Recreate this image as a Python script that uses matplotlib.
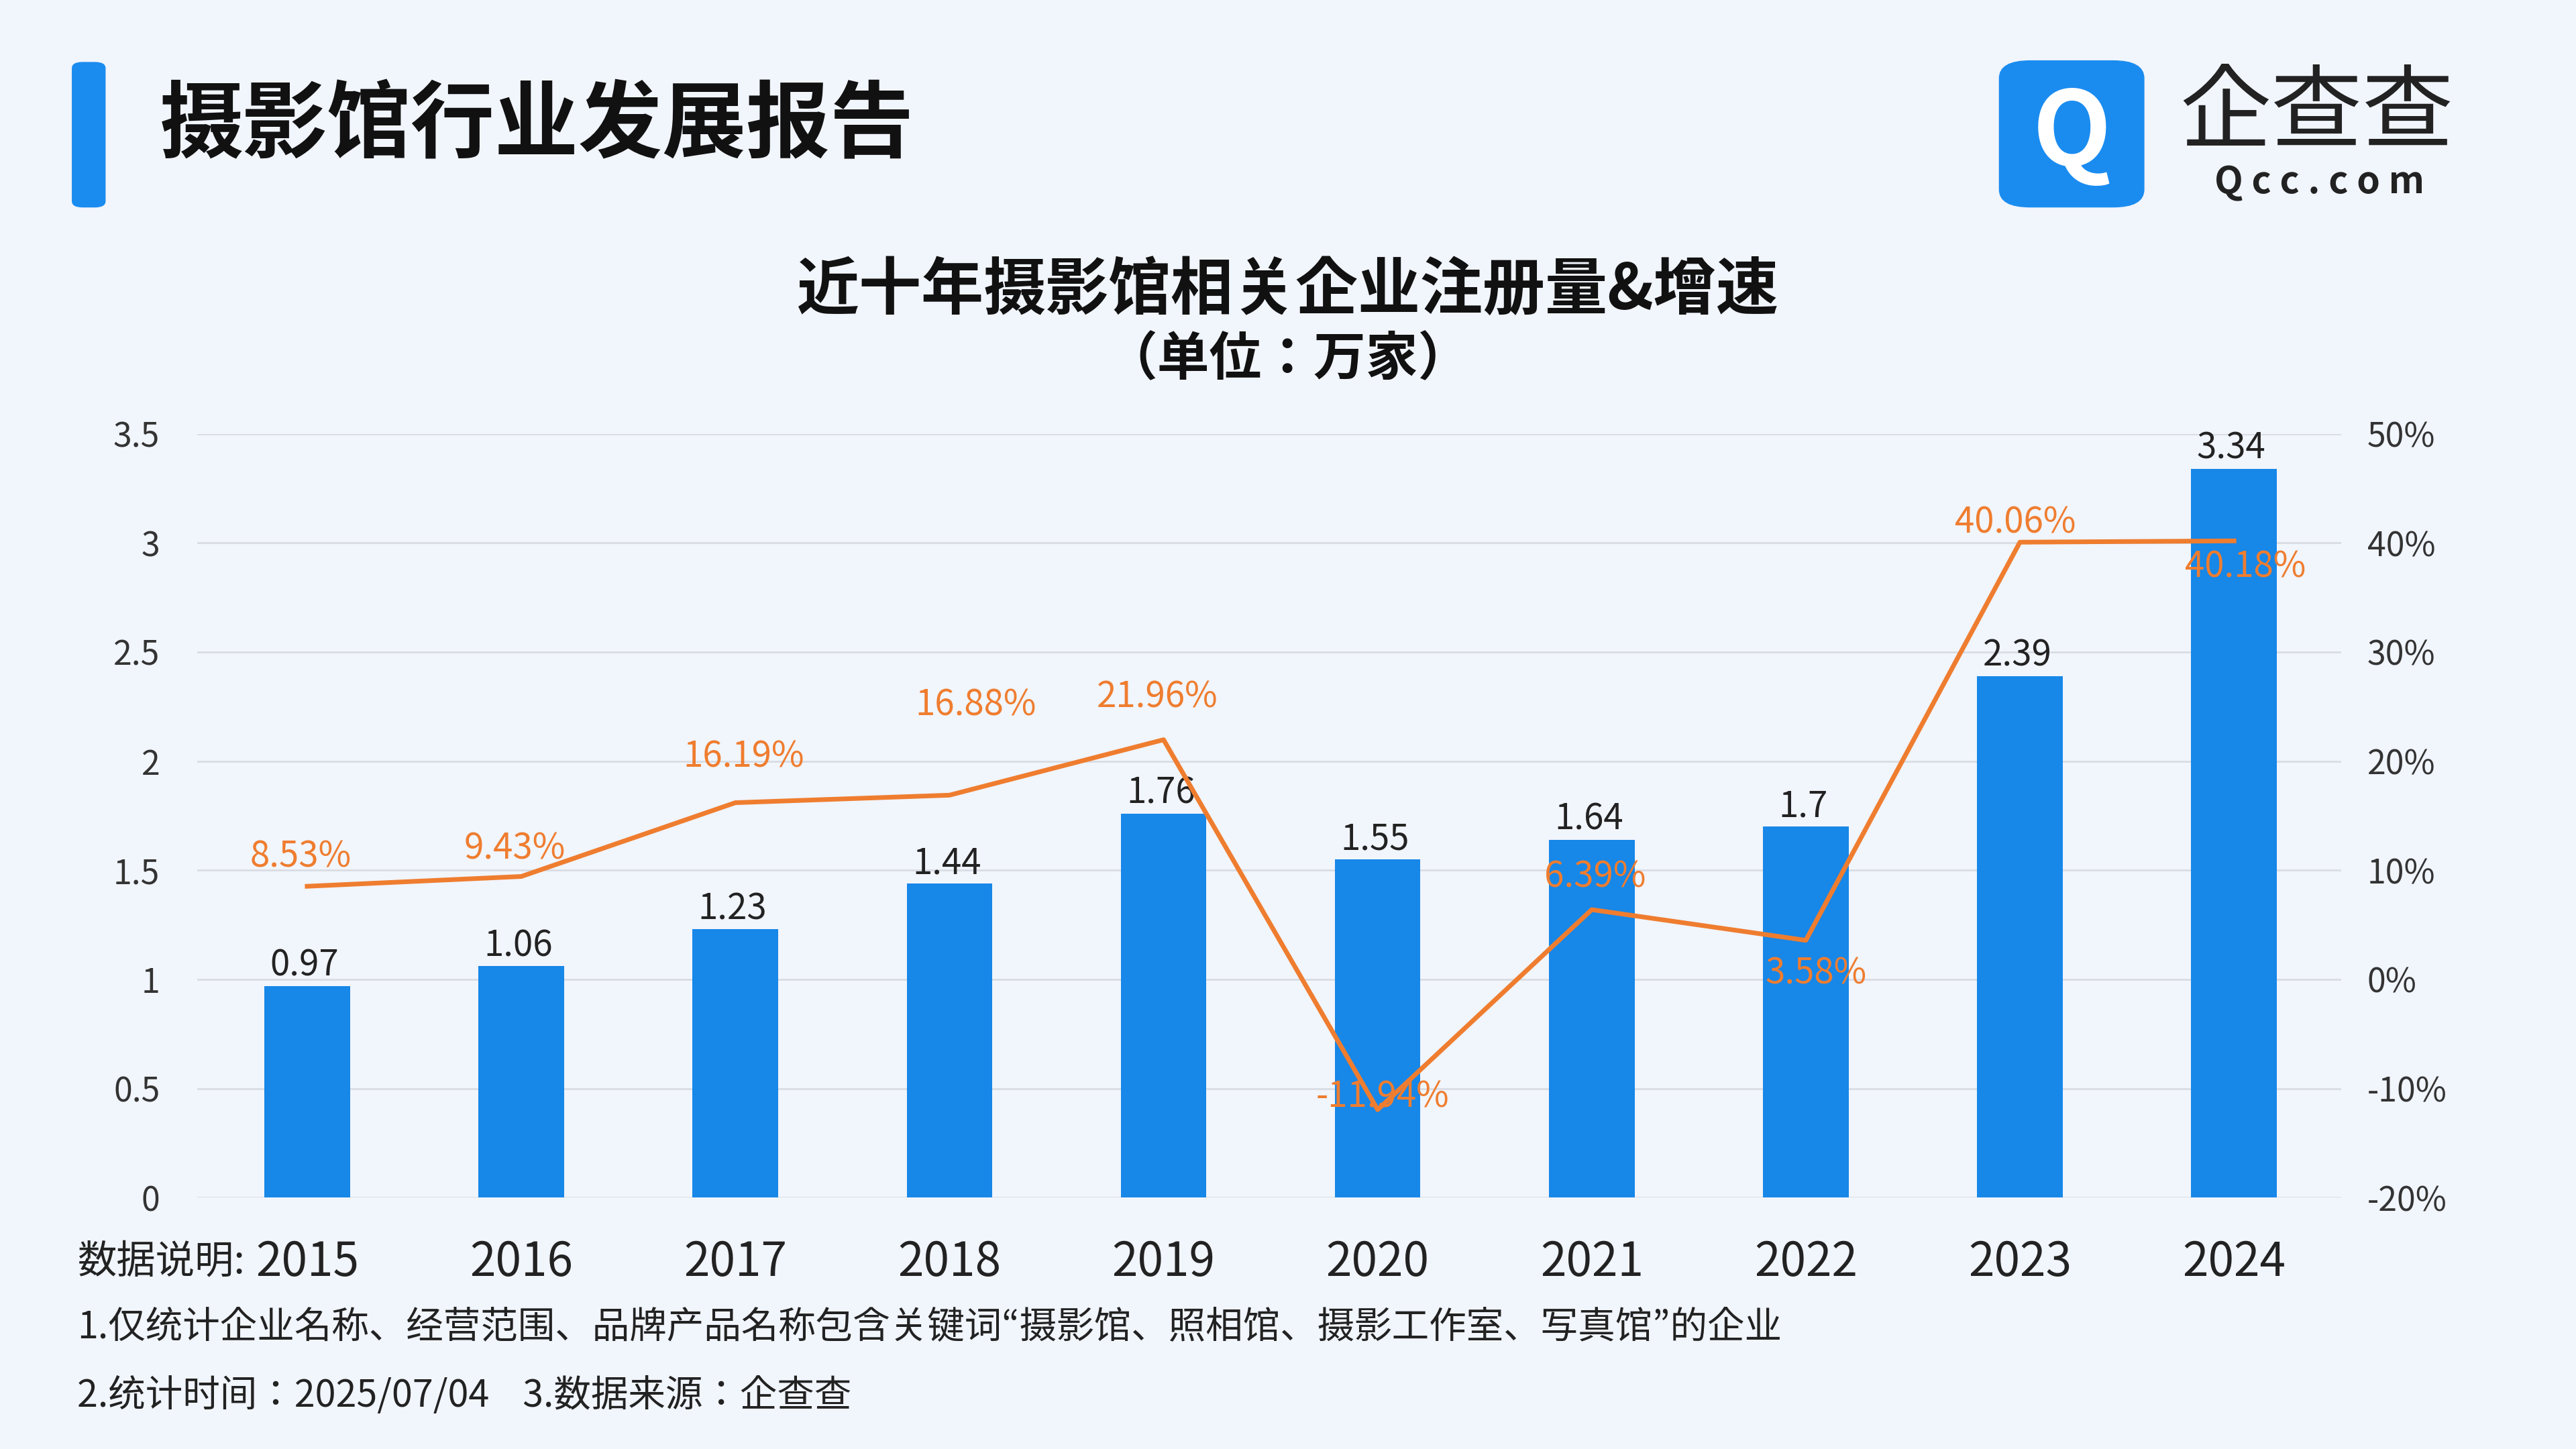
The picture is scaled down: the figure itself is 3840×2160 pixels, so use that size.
import matplotlib
matplotlib.use("Agg")
import matplotlib.pyplot as plt
from matplotlib import font_manager
from matplotlib.patches import FancyBboxPatch

cjk = [f.name for f in font_manager.fontManager.ttflist if 'Sans CJK' in f.name]
pref = [n for n in cjk if n.endswith('SC')] or cjk
plt.rcParams['font.family'] = [pref[0] if pref else 'Noto Sans CJK SC', 'DejaVu Sans']

years = ['2015','2016','2017','2018','2019','2020','2021','2022','2023','2024']
counts = [0.97,1.06,1.23,1.44,1.76,1.55,1.64,1.7,2.39,3.34]
count_labels = ['0.97','1.06','1.23','1.44','1.76','1.55','1.64','1.7','2.39','3.34']
growth = [8.53,9.43,16.19,16.88,21.96,-11.94,6.39,3.58,40.06,40.18]
growth_labels = ['8.53%','9.43%','16.19%','16.88%','21.96%','-11.94%','6.39%','3.58%','40.06%','40.18%']
left_ticks = [0,0.5,1,1.5,2,2.5,3,3.5]
left_tick_labels = ['0','0.5','1','1.5','2','2.5','3','3.5']
right_ticks = [-20,-10,0,10,20,30,40,50]
right_tick_labels = ['-20%','-10%','0%','10%','20%','30%','40%','50%']

offs = [(-4,18),(-4,17),(5,28),(16,55),(-4,26),(3,8),(2,20),(6,-20),(-3,12),(7,-16)]
K = 1.763

bg = '#f1f5fc'
fig = plt.figure(figsize=(38.4,21.6), dpi=100, facecolor=bg)
W, H = 1568, 882
def fx(x): return x/W
def fy(y): return 1-y/H

ax = fig.add_axes([fx(120), fy(729), fx(1425)-fx(120), fy(264)-fy(729)])
ax.set_facecolor('none')
x = list(range(len(years)))
ax.bar(x, counts, width=0.4, color='#1787e8', zorder=3)
ax.set_ylim(0,3.5)
ax.set_xlim(-0.514, 9.5)
ax.set_yticks(left_ticks)
ax.set_yticklabels(left_tick_labels, fontsize=36, color='#333333')
ax.set_xticks(x)
ax.set_xticklabels(years, fontsize=50, color='#222222')
ax.tick_params(axis='x', length=0, pad=44)
ax.tick_params(axis='y', length=0, pad=40)
ax.grid(axis='y', color='#d9dce3', linewidth=2, zorder=0)
for s in ax.spines.values(): s.set_visible(False)
for xi, c, l in zip(x, counts, count_labels):
    ax.annotate(l, (xi, c), xytext=(-3, 2), textcoords='offset points', ha='center', va='bottom', fontsize=38, color='#222222', zorder=5)

ax2 = ax.twinx()
ax2.set_ylim(-20,50)
ax2.set_yticks(right_ticks)
ax2.set_yticklabels(right_tick_labels, fontsize=36, color='#333333')
ax2.tick_params(length=0, pad=28)
for s in ax2.spines.values(): s.set_visible(False)
ax2.plot(x, growth, color='#ef7d2f', linewidth=5, zorder=4)
for xi, g, l, (dx, dy) in zip(x, growth, growth_labels, offs):
    ax2.annotate(l, (xi, g), xytext=(dx*K, dy*K), textcoords='offset points', ha='center', va='center', fontsize=38, color='#ef7d2f', zorder=6)

fig.patches.append(FancyBboxPatch((fx(44), fy(126)), fx(64)-fx(44), fy(38)-fy(126), boxstyle='round,pad=0,rounding_size=0.004', transform=fig.transFigure, color='#1a8cf0'))
fig.text(fx(97), fy(77), '摄影馆行业发展报告', fontsize=90, fontweight='bold', va='center', ha='left', color='#111111')
fig.patches.append(FancyBboxPatch((fx(1217), fy(126)), fx(1305)-fx(1217), fy(37)-fy(126), boxstyle='round,pad=0,rounding_size=0.012', transform=fig.transFigure, color='#1a8cf0'))
fig.text(fx(1261), fy(82), 'Q', fontsize=110, fontweight='bold', color='white', ha='center', va='center')
fig.text(fx(1410), fy(70), '企查查', fontsize=98, color='#222222', ha='center', va='center')
fig.text(fx(1412), fy(111), 'Q c c . c o m', fontsize=40, fontweight='bold', color='#222222', ha='center', va='center')

fig.text(0.5, fy(177), '近十年摄影馆相关企业注册量&增速', fontsize=67, fontweight='bold', ha='center', va='center', color='#111111')
fig.text(0.5, fy(219), '（单位：万家）', fontsize=56, fontweight='bold', ha='center', va='center', color='#111111')

fig.text(fx(47), fy(768), '数据说明:', fontsize=42, ha='left', va='center', color='#222222')
fig.text(fx(47), fy(808), '1.仅统计企业名称、经营范围、品牌产品名称包含关键词“摄影馆、照相馆、摄影工作室、写真馆”的企业', fontsize=40, ha='left', va='center', color='#222222')
fig.text(fx(47), fy(850), '2.统计时间：2025/07/04    3.数据来源：企查查', fontsize=40, ha='left', va='center', color='#222222')

fig.savefig('out.png', dpi=100, facecolor=bg)
